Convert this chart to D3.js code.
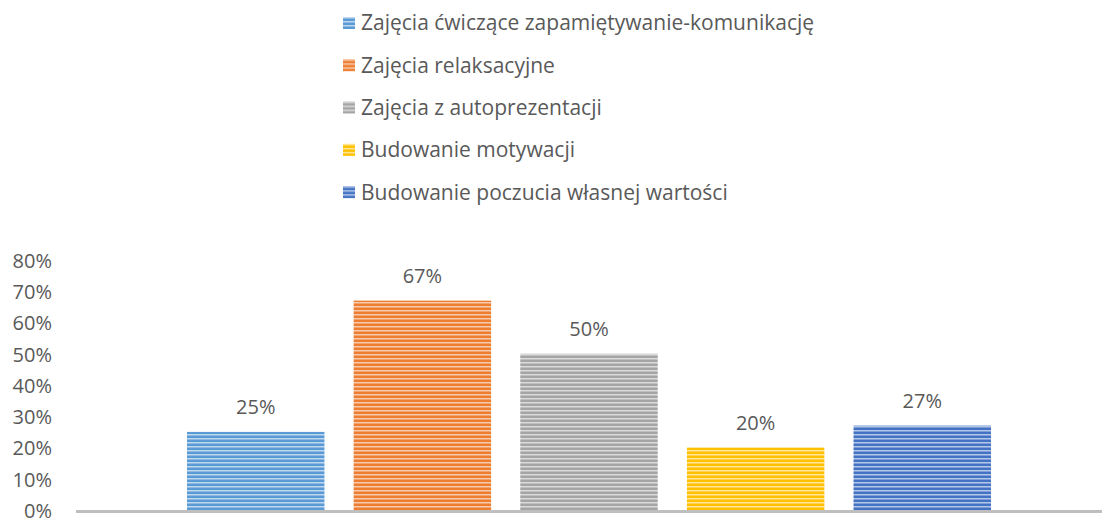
<!DOCTYPE html>
<meta charset="utf-8">
<style>
body { margin: 0; background: #fff; }
svg text { font-family: "Open Sans", sans-serif; fill: #595959; }
</style>
<script src="https://d3js.org/d3.v7.min.js"></script>
<div id="chart"></div>
<script>

// data
var series = ["Zajęcia ćwiczące zapamiętywanie-komunikację", "Zajęcia relaksacyjne",
  "Zajęcia z autoprezentacji", "Budowanie motywacji", "Budowanie poczucia własnej wartości"];
var values = [0.25, 0.67, 0.50, 0.20, 0.27];
var colors = ["#5b9bd5", "#ed7d31", "#a5a5a5", "#ffc000", "#4472c4"];
var yTicks = [0, 0.1, 0.2, 0.3, 0.4, 0.5, 0.6, 0.7, 0.8];

var width = 1117, height = 524;
var plot = {left: 76, right: 1102, top: 260, bottom: 510};

var svg = d3.select("#chart").append("svg")
  .attr("width", width)
  .attr("height", height);

// stripe patterns (narrow horizontal)
var defs = svg.append("defs");
colors.forEach(function (c, i) {
  var p = defs.append("pattern")
    .attr("id", "stripe" + i)
    .attr("patternUnits", "userSpaceOnUse")
    .attr("width", 8).attr("height", 4);
  p.append("rect").attr("width", 8).attr("height", 4).attr("fill", c);
  p.append("rect").attr("y", 2).attr("width", 8).attr("height", 1)
    .attr("fill", "#fff").attr("opacity", 0.6);
  p.append("rect").attr("y", 3).attr("width", 8).attr("height", 1)
    .attr("fill", "#fff").attr("opacity", 0.3);
});

// scales
var y = d3.scaleLinear().domain([0, 0.8]).range([plot.bottom, plot.top]);
var outerGap = 111;
var x = d3.scaleBand()
  .domain(series)
  .range([plot.left + outerGap, plot.right - outerGap])
  .paddingInner(0.175)
  .paddingOuter(0);

// y axis labels
var yAxis = svg.append("g")
  .attr("transform", "translate(" + (plot.left - 24) + ",1)")
  .call(d3.axisLeft(y).tickValues(yTicks).tickFormat(d3.format(".0%")).tickSize(0).tickPadding(0));
yAxis.select(".domain").remove();
yAxis.selectAll("text")
  .style("font-size", "20px")
  .style("font-family", "'Open Sans', sans-serif")
  .attr("fill", "#595959");

// bars
svg.append("g")
  .selectAll("rect")
  .data(values)
  .enter()
  .append("rect")
    .attr("x", function (d, i) { return x(series[i]); })
    .attr("y", function (d) { return y(d); })
    .attr("width", x.bandwidth())
    .attr("height", function (d) { return y(0) - y(d); })
    .attr("fill", function (d, i) { return "url(#stripe" + i + ")"; });

// data labels
svg.append("g")
  .selectAll("text")
  .data(values)
  .enter()
  .append("text")
    .attr("x", function (d, i) { return x(series[i]) + x.bandwidth() / 2; })
    .attr("y", function (d) { return y(d) - 18; })
    .attr("text-anchor", "middle")
    .style("font-size", "20px")
    .text(function (d) { return d3.format(".0%")(d); });

// x axis line
svg.append("line")
  .attr("x1", plot.left).attr("x2", plot.right)
  .attr("y1", y(0) + 1.5).attr("y2", y(0) + 1.5)
  .attr("stroke", "#bfbfbf")
  .attr("stroke-width", 3);

// legend
var legend = svg.append("g")
  .selectAll("g")
  .data(series)
  .enter()
  .append("g")
    .attr("transform", function (d, i) { return "translate(343," + (23 + i * 42.3) + ")"; });

legend.append("rect")
  .attr("x", 0).attr("y", -6)
  .attr("width", 12).attr("height", 12)
  .attr("fill", function (d, i) { return "url(#stripe" + i + ")"; });

legend.append("text")
  .attr("x", 18)
  .attr("dy", "0.35em")
  .style("font-size", "21px")
  .text(function (d) { return d; });

</script>
